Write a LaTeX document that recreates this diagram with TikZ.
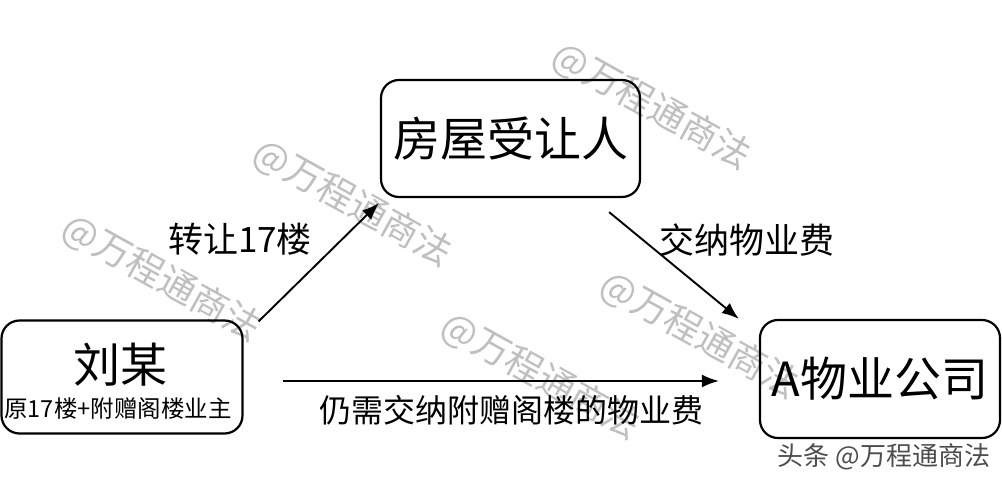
\documentclass[tikz,border=0pt]{standalone}
\usepackage{fontspec}
\newfontfamily\cjk{Noto Sans CJK SC}
\usetikzlibrary{positioning, arrows.meta}

\newcommand{\bigtxt}{\fontsize{47}{50}\selectfont}
\newcommand{\labtxt}{\fontsize{35}{38}\selectfont}
\newcommand{\notetxt}{\fontsize{23.5}{26}\selectfont}

\begin{document}
\begin{tikzpicture}[x=1pt,y=-1pt,>={Latex[length=17pt,width=13pt]},font=\cjk]

	\tikzstyle{box}=[draw=black,line width=2.2pt,rounded corners=18pt,inner sep=0pt]
	\tikzstyle{arr}=[->,line width=1.9pt]
	\tikzstyle{wmark}=[text=black!25,rotate=-29,font=\cjk\fontsize{37}{40}\selectfont]

	\useasboundingbox (0,0) rectangle (1002,484);

	% watermarks
	\node[wmark] (wm1) at (652,106) {@万程通商法};
	\node[wmark] (wm2) at (353,203) {@万程通商法};
	\node[wmark] (wm3) at (162,278) {@万程通商法};
	\node[wmark] (wm4) at (700,335) {@万程通商法};
	\node[wmark] (wm5) at (541,376) {@万程通商法};

	% parties
	\node[box,minimum width=259pt,minimum height=117pt] (buyer) at (510.5,138.5) {\bigtxt 房屋受让人};
	\node[box,minimum width=241pt,minimum height=113pt] (liu) at (122,377) {};
	\node (liuname) at ([xshift=-2pt,yshift=12pt]liu.center) {\bigtxt 刘某};
	\node (liunote) at ([xshift=-4pt,yshift=-31pt]liu.center) {\notetxt 原17楼+附赠阁楼业主};
	\node[box,minimum width=240pt,minimum height=118pt] (company) at (880,379) {\bigtxt A物业公司};

	% labels
	\node (transfer) at (240,239) {\labtxt 转让17楼};
	\node (fee) at (747,240) {\labtxt 交纳物业费};
	\node (attic) at (511,410) {\fontsize{32}{35}\selectfont 仍需交纳附赠阁楼的物业费};
	\node[text=black!70] (sign) at (884,457) {\fontsize{26}{28}\selectfont 头条 @万程通商法};

	\draw[arr] ([xshift=15pt,yshift=-2pt]liu.north east) -- ([xshift=-1pt,yshift=-5pt]buyer.south west);
	\draw[arr] ([xshift=-32pt,yshift=-14pt]buyer.south east) -- ([xshift=-20pt]company.north west);
	\draw[arr] ([xshift=39pt,yshift=-4pt]liu.east) -- ([xshift=-40pt,yshift=-2pt]company.west);
\end{tikzpicture}
\end{document}
